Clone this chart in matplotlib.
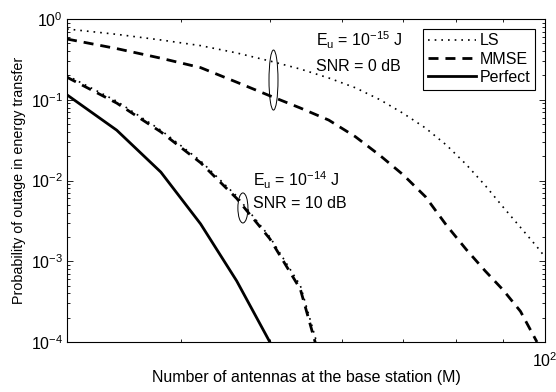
import matplotlib
matplotlib.use('Agg')
import matplotlib.pyplot as plt
from matplotlib.patches import Ellipse
from matplotlib.ticker import NullFormatter, LogLocator

plt.rcParams['font.family'] = ['Liberation Sans', 'DejaVu Sans']
plt.rcParams['font.size'] = 11.5
plt.rcParams['mathtext.default'] = 'regular'

# Number of antennas for each curve
M_0db = [30, 34, 38, 42, 46, 50, 54, 58, 62, 66, 70, 74, 78, 82, 86, 90, 94, 98, 102]
M_0db_mmse = [30, 34, 38, 42, 46, 50, 54, 58, 62, 66, 70, 74, 78, 82, 86, 90, 94, 98]
M_10db = [30, 34, 38, 42, 46, 50, 54, 58]
M_perfect = [30, 34, 38, 42, 46, 50]

# Outage probability, E_u = 1e-15 J, SNR = 0 dB
ls_0db = [0.752, 0.646, 0.55, 0.468, 0.38, 0.302, 0.24, 0.186, 0.141, 0.1,
          0.0676, 0.0447, 0.0275, 0.0158, 0.0087, 0.00468, 0.00263, 0.00151, 0.00085]
mmse_0db = [0.565, 0.43, 0.327, 0.25, 0.165, 0.112, 0.079, 0.056, 0.035, 0.0204,
            0.0117, 0.0063, 0.0028, 0.0014, 7.6e-4, 4.4e-4, 2.4e-4, 1.0e-4]

# Outage probability, E_u = 1e-14 J, SNR = 10 dB
ls_10db = [0.20, 0.096, 0.042, 0.0175, 0.0064, 0.0020, 5.0e-4, 3e-5]
mmse_10db = [0.19, 0.091, 0.040, 0.0166, 0.0060, 0.0019, 4.5e-4, 2.5e-5]

# Perfect CSI
perfect = [0.115, 0.042, 0.0127, 0.0029, 5.7e-4, 1.0e-4]

fig = plt.figure(figsize=(5.56, 3.92), dpi=100)
ax = fig.add_axes([67 / 556, 50 / 392, 478 / 556, 323 / 392])

dot = (0, (1, 3))
dash = (0, (3.6, 2.5))

ax.plot(M_0db, ls_0db, color='k', lw=1.2, linestyle=dot, label='LS')
ax.plot(M_0db_mmse, mmse_0db, color='k', lw=2, linestyle=dash, label='MMSE')
ax.plot(M_perfect, perfect, color='k', lw=2, linestyle='-', label='Perfect')
ax.plot(M_10db, ls_10db, color='k', lw=1.2, linestyle=dot)
ax.plot(M_10db, mmse_10db, color='k', lw=2, linestyle=dash)

ax.set_xscale('log')
ax.set_yscale('log')
ax.set_xlim(30, 100)
ax.set_ylim(1e-4, 1)

ax.xaxis.set_minor_formatter(NullFormatter())
ax.yaxis.set_major_locator(LogLocator(base=10, numticks=10))
ax.yaxis.set_minor_locator(LogLocator(base=10, subs=range(2, 10), numticks=20))
ax.yaxis.set_minor_formatter(NullFormatter())

ax.tick_params(which='both', direction='in', top=True, right=True, labelsize=11.5)
ax.tick_params(which='major', length=4, width=0.6)
ax.tick_params(which='minor', length=2.5, width=0.6)
ax.tick_params(axis='x', pad=7)
ax.tick_params(axis='y', pad=3)
for s in ax.spines.values():
    s.set_linewidth(0.8)

ax.set_xlabel('Number of antennas at the base station (M)', fontsize=11.5, labelpad=0)
ax.set_ylabel('Probability of outage in energy transfer', fontsize=10.3, labelpad=3)

# annotations
ax.text(0.521, 0.935, r'E$_u$ = 10$^{-15}$ J', transform=ax.transAxes, fontsize=11.5, va='center')
ax.text(0.521, 0.854, 'SNR = 0 dB', transform=ax.transAxes, fontsize=11.5, va='center')
ax.text(0.389, 0.502, r'E$_u$ = 10$^{-14}$ J', transform=ax.transAxes, fontsize=11.5, va='center')
ax.text(0.389, 0.430, 'SNR = 10 dB', transform=ax.transAxes, fontsize=11.5, va='center')

ax.add_patch(Ellipse((0.432, 0.811), 0.0188, 0.186, transform=ax.transAxes,
                     fill=False, edgecolor='k', lw=0.7))
ax.add_patch(Ellipse((0.368, 0.415), 0.021, 0.093, transform=ax.transAxes,
                     fill=False, edgecolor='k', lw=0.7))

leg = ax.legend(loc='upper right', fontsize=11.5, handlelength=3.0, labelspacing=0.2,
                borderaxespad=0.6, fancybox=False, framealpha=1, borderpad=0.3,
                handletextpad=0.25)
leg.get_frame().set_edgecolor('k')
leg.get_frame().set_linewidth(0.8)

fig.savefig('out.png', dpi=100)
